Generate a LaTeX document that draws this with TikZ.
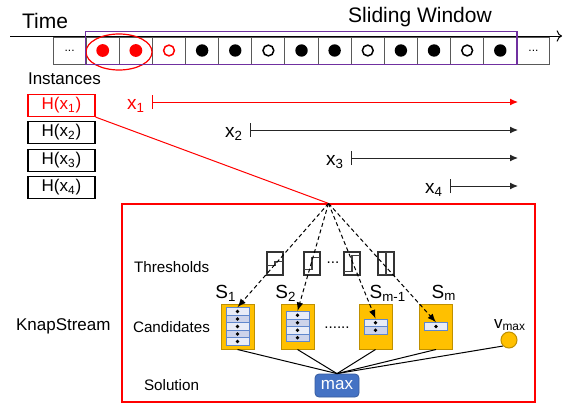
\documentclass[tikz,border=0pt]{standalone}
\usepackage{fontspec}
\setmainfont{Liberation Sans}
\usetikzlibrary{arrows,arrows.meta,positioning}

\definecolor{winpurple}{RGB}{112,48,160}
\definecolor{candorange}{RGB}{255,192,0}
\definecolor{candedge}{RGB}{191,144,0}
\definecolor{maxblue}{RGB}{68,114,196}
\definecolor{rowlight}{RGB}{233,236,247}
\definecolor{rowdark}{RGB}{205,211,234}

\tikzset{
  fbig/.style={font=\fontsize{10.5}{12}\selectfont},
  fmid/.style={font=\fontsize{8.5}{10}\selectfont},
  fvar/.style={font=\fontsize{9.5}{11}\selectfont},
  fsmall/.style={font=\fontsize{7.6}{9}\selectfont},
  cell/.style={draw=black!65, line width=0.5pt, minimum width=16.56pt, minimum height=13.5pt, inner sep=0pt},
  inst/.style={draw, line width=0.6pt, minimum width=33.5pt, minimum height=11pt, inner sep=0pt, fmid},
  thbox/.style={draw=black!80, line width=0.6pt, minimum width=8pt, minimum height=11.5pt, inner sep=0pt},
  cand/.style={fill=candorange, draw=candedge, line width=0.5pt, minimum width=16.5pt, minimum height=22.5pt, inner sep=0pt},
  stackrow/.style={draw=maxblue!85, line width=0.5pt, minimum width=11.5pt, minimum height=3.75pt, inner sep=0pt},
  span/.style={{Bar[width=7pt]}-{Latex[length=4pt,width=3.5pt]}, line width=0.5pt},
}

\begin{document}
\begin{tikzpicture}[x=0.5pt,y=-0.5pt]
  \useasboundingbox (0,0) rectangle (563,407);

  % time axis and the stream of items
  \coordinate (t0) at (10,36);
  \coordinate (t1) at (562,36);
  \draw[->, line width=0.5pt] (t0) -- (t1);
  \foreach \i in {0,...,14}
    \node[cell] (c\i) at (69.6+33.13*\i,50.5) {};
  \node[font=\fontsize{6}{7}\selectfont] at (c0) {...};
  \node[font=\fontsize{6}{7}\selectfont] at (c14) {...};
  \foreach \i in {1,2}
    \fill[red] (c\i) circle (3.2pt);
  \draw[red, line width=0.75pt] (c3) circle (2.7pt);
  \foreach \i in {4,5,7,8,10,11,13}
    \fill (c\i) circle (3.1pt);
  \foreach \i in {6,9,12}
    \draw[line width=0.75pt] (c\i) circle (2.7pt);
  \draw[red, line width=0.6pt] (119,52) ellipse [x radius=16.5pt, y radius=9pt];
  \draw[winpurple, line width=0.8pt] (c1.north west) ++(0,-5) rectangle (517,64.5);

  \node[fbig] (time) at (45,21) {Time};
  \node[fbig] (slide) at (420,17) {Sliding Window};
  \node[fmid, anchor=west] (instances) at (21,79) {Instances};

  % one instance per arriving item
  \foreach \k/\y in {1/105.5,2/132.5,3/160.5,4/187.5}
    \node[inst] (h\k) at (61.5,\y) {H(x\textsubscript{\k})};
  \node[inst, draw=red, text=red, fill=white] at (h1) {H(x\textsubscript{1})};

  \foreach \k/\xs/\y in {1/152/102,2/250/130,3/351/158,4/450/186} {
    \coordinate (s\k) at (\xs,\y);
    \coordinate (e\k) at (518,\y);
  }
  \draw[span, red] (s1) -- (e1);
  \foreach \k in {2,3,4}
    \draw[span, black!85] (s\k) -- (e\k);
  \node[fvar, text=red, left=0pt of s1, yshift=-2pt] {x\textsubscript{1}};
  \foreach \k in {2,3,4}
    \node[fvar, left=0pt of s\k, yshift=-2pt] {x\textsubscript{\k}};

  % inside one instance
  \node[draw=red, line width=0.6pt, minimum width=206.5pt, minimum height=99pt, inner sep=0pt] (kbox) at (328.5,303) {};
  \coordinate (apex) at (kbox.north);
  \draw[red, line width=0.5pt] (h1.south east) -- (apex);

  \node[fmid, anchor=west] (knap) at (9,326) {KnapStream};
  \node[fsmall, anchor=west] (thr) at (127,267) {Thresholds};
  \node[fsmall, anchor=west] (cands) at (126,327) {Candidates};
  \node[fsmall, anchor=west] (sol) at (137,385) {Solution};

  % threshold steps, steeper from left to right
  \foreach \k/\cx/\d in {1/275/2,2/312/6,3/352/8,4/386/11} {
    \node[thbox] (th\k) at (\cx,263.5) {};
    \draw[black!75, line width=0.7pt] (\cx-8,263.5+\d) -- (\cx,263.5+\d) -- (\cx,263.5-\d) -- (\cx+8,263.5-\d);
  }
  \node[fsmall] at (333,263) {...};

  % candidate sets
  \foreach \nm/\cx/\n in {1/237.5/5,2/297.5/4,m1/375.5/2,m/436/1} {
    \node[cand] (cand\nm) at (\cx,326.5) {};
    \foreach \r in {1,...,\n} {
      \ifodd\r \def\rowfill{rowlight}\else\def\rowfill{rowdark}\fi
      \node[stackrow, fill=\rowfill] (r\nm-\r) at (\cx,{326.5+(\r-(\n+1)/2)*7.5}) {};
      \fill (r\nm-\r) circle (0.9pt);
    }
  }
  \node[fsmall] at (337,328) {......};

  \node[fvar] at (226,293) {S\textsubscript{1}};
  \node[fvar] at (286,293) {S\textsubscript{2}};
  \node[fvar] at (388,293) {S\textsubscript{m-1}};
  \node[fvar] at (444,293) {S\textsubscript{m}};

  \node[circle, fill=candorange, draw=candedge, line width=0.5pt, minimum size=8pt, inner sep=0pt] (vmax) at (509,340) {};
  \node[fmid] at (510,325) {v\textsubscript{max}};

  \node[fill=maxblue, draw=maxblue!80!black, line width=0.4pt, rounded corners=2pt, minimum width=22pt, minimum height=11.5pt, inner sep=0pt, text=white, fmid] (max) at (337,385.5) {max};

  \foreach \nm in {1,2,m1,m}
    \draw[dashed, dash pattern=on 2pt off 1.4pt, line width=0.5pt, -latex] (apex) -- (r\nm-1.north);
  \foreach \nm in {1,2,m1,m}
    \draw[line width=0.5pt] (cand\nm.south) -- (max.north);
  \draw[line width=0.5pt] (vmax.south west) -- (max.north);
\end{tikzpicture}
\end{document}
